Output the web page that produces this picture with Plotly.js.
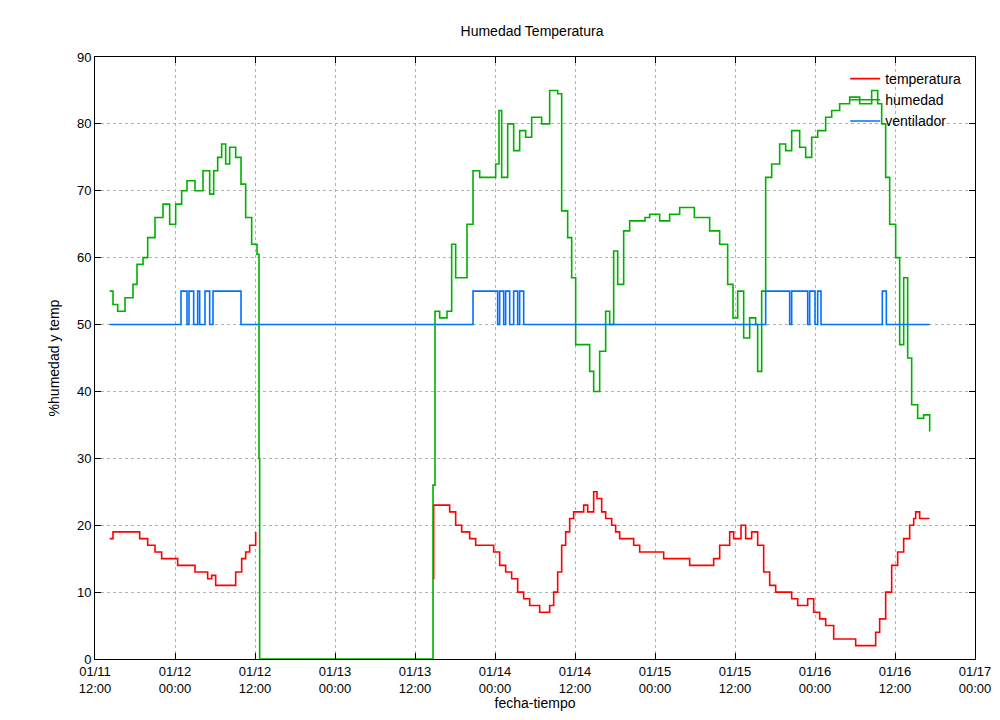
<!DOCTYPE html>
<html>
<head>
<meta charset="utf-8">
<script src="https://cdn.plot.ly/plotly-3.0.1.min.js"></script>
<style>body{margin:0;background:#fff}#chart{width:1000px;height:720px}</style>
</head>
<body>
<div id="chart"></div>
<script>
// hours since 01/11 12:00
const humHours = [2.2,2.7,3.4,4.5,5.7,6.3,7.2,7.9,9.0,10.2,11.2,12.1,13.0,13.8,15.0,16.2,17.2,17.8,18.4,19.0,19.6,20.2,21.1,21.9,22.6,23.5,24.3,24.6,24.7,50.5,50.7,51.0,51.7,52.8,53.5,54.1,55.0,55.8,56.7,57.7,59.2,60.1,60.6,61.0,61.9,62.8,63.7,64.6,65.5,67.0,68.2,69.4,70.0,70.9,71.5,72.1,73.3,74.2,74.8,75.7,76.6,77.2,77.8,78.4,79.3,80.2,82.5,83.2,84.7,86.2,87.7,89.9,90.7,92.2,93.7,94.9,95.7,96.4,97.3,98.2,99.1,99.4,100.0,100.6,101.5,102.7,103.6,104.5,105.7,106.6,107.5,108.4,109.6,110.5,111.7,113.2,114.7,116.5,117.4,118.0,118.6,119.2,120.1,120.7,121.3,121.9,122.5,123.4,124.3,125.2];
const humedad = [55,53,52,54,56,59,60,63,66,68,65,68,70,71.5,70,73,69.5,73,75,77,74,76.5,75,71,66,62,60.5,30,0,0,26,52,51,52,62,57,57,65,73,72,72,74,82,72,80,76,79,78,81,80,85,84.5,67,63,57,47,47,43,40,46,52,50,61,56,64,65.5,66,66.5,65.5,66.5,67.5,66,66,64,62,56,51,55,48,51,50,43,55,72,74,77,76,79,76.5,75,78,79,81,82,83,84,83,85,83,80,72,65,60,47,57,45,38,36,36.5,34];

const tempHours = [2.2,2.7,6.3,6.7,7.9,9.0,10.0,12.4,15.0,16.9,17.5,18.1,21.1,22.0,22.6,23.2,24.1,24.4,50.7,50.8,53.2,54.1,55.0,56.2,57.1,59.8,60.7,61.6,62.5,63.4,64.3,65.2,66.7,68.2,68.8,69.4,70.0,70.6,71.2,71.8,73.3,73.9,74.8,75.3,76.0,76.6,77.5,78.1,78.7,80.8,81.7,85.3,89.2,92.8,93.7,95.2,95.8,96.9,97.6,98.5,99.4,100.3,101.2,102.1,104.5,105.4,106.9,107.8,108.7,109.6,110.8,114.1,117.1,117.7,118.6,119.5,120.4,121.3,122.2,122.8,123.1,123.7,125.2];
const temperatura = [18,19,19,18,17,16,15,14,13,12,12.5,11,13,15,16,17,19,null,12,23,22,20,19,18,17,16,14,13,12,10,9,8,7,8,10,13,17,19,21,22,23,22,25,24,22,21,20,19,18,17,16,15,14,15,17,19,18,20,18,19,17,13,11,10,9,8,9,7,6,5,3,2,4,6,10,14,16,18,20,21,22,21,21];

const ventHours = [2.2,12.9,13.8,14.1,14.8,15.4,15.7,16.5,17.2,17.7,21.9,56.7,60.4,60.7,61.3,61.6,62.2,62.8,63.4,63.7,64.3,100.6,104.2,104.5,106.9,107.2,108.0,108.4,108.9,118.1,118.7,125.2];
const ventilador = [50,55,50,55,50,55,50,55,50,55,50,55,50,55,50,55,50,55,50,55,50,55,50,55,50,55,50,55,50,55,50,50];

const base = Date.UTC(2014, 0, 11, 12);
const toX = hs => hs.map(h => base + h * 3600000);

const line = (name, hs, ys, color) => ({
  name, x: toX(hs), y: ys, type: "scatter", mode: "lines",
  line: { color, width: 1.6, shape: "hv" }, connectgaps: false,
});

const axisBase = {
  showline: true, mirror: "ticks", linecolor: "#000", linewidth: 1,
  ticks: "inside", ticklen: 6, tickcolor: "#000",
  gridcolor: "#b0b0b0", griddash: "dot", gridwidth: 1, zeroline: false,
  tickfont: { size: 13, color: "#000" },
};

Plotly.newPlot("chart", [
  line("temperatura", tempHours, temperatura, "#ff0000"),
  line("humedad", humHours, humedad, "#00b000"),
  line("ventilador", ventHours, ventilador, "#0070ff"),
], {
  width: 1000, height: 720,
  font: { family: "Liberation Sans, Arial, sans-serif", size: 13, color: "#000" },
  title: { text: "Humedad Temperatura", x: 0.532, y: 0.963, font: { size: 14 } },
  margin: { l: 95, r: 25, t: 57, b: 61 },
  plot_bgcolor: "#fff", paper_bgcolor: "#fff",
  showlegend: true,
  legend: { x: 0.99, y: 0.99, xanchor: "right", yanchor: "top", bgcolor: "rgba(0,0,0,0)", font: { size: 14 } },
  xaxis: Object.assign({}, axisBase, {
    type: "date", range: [base, base + 132 * 3600000],
    dtick: 43200000, tick0: base, tickformat: "%m/%d<br>%H:%M",
    title: { text: "fecha-tiempo", standoff: 0, font: { size: 14 } },
  }),
  yaxis: Object.assign({}, axisBase, {
    range: [0, 90], dtick: 10,
    title: { text: "%humedad y temp", standoff: 14, font: { size: 14 } },
  }),
}, { displayModeBar: false });
</script>
</body>
</html>
